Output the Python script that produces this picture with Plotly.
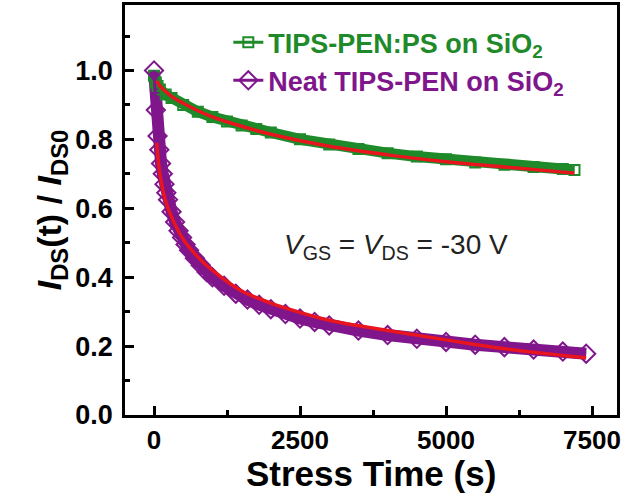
import plotly.graph_objects as go

# ---- data ----
t_ps = [0, 30, 60, 100, 200, 300, 500, 750, 1000, 1250, 1500, 1750, 2000, 2500, 3000,
        3500, 4000, 4500, 5000, 5500, 6000, 6500, 7000, 7200]
y_ps = [0.985, 0.965, 0.955, 0.945, 0.93, 0.92, 0.90, 0.88, 0.865, 0.852, 0.84, 0.83,
        0.82, 0.80, 0.785, 0.772, 0.76, 0.75, 0.742, 0.733, 0.726, 0.72, 0.714, 0.711]

t_neat = [0, 30, 60, 90, 120, 150, 180, 210, 240, 300, 360, 420, 480, 540, 600, 700, 800,
          900, 1000, 1200, 1400, 1600, 1800, 2000, 2250, 2500, 2750, 3000, 3500, 4000,
          4500, 5000, 5500, 6000, 6500, 7000, 7400]
y_neat = [1.00, 0.885, 0.81, 0.77, 0.73, 0.70, 0.67, 0.645, 0.625, 0.59, 0.56, 0.535,
          0.515, 0.495, 0.478, 0.455, 0.435, 0.415, 0.40, 0.375, 0.352, 0.335, 0.32, 0.307,
          0.293, 0.28, 0.27, 0.26, 0.245, 0.232, 0.221, 0.212, 0.204, 0.197, 0.19, 0.184,
          0.178]

t_fit_ps = [50, 100, 300, 500, 1000, 1500, 2000, 3000, 4000, 5000, 6000, 7200]
y_fit_ps = [0.97, 0.955, 0.925, 0.905, 0.865, 0.838, 0.815, 0.78, 0.755, 0.735, 0.72, 0.702]

t_fit_neat = [45, 100, 200, 300, 500, 800, 1000, 1500, 2000, 2500, 3000, 4000, 5000,
              6000, 7000, 7400]
y_fit_neat = [0.79, 0.70, 0.62, 0.575, 0.51, 0.45, 0.42, 0.36, 0.325, 0.298, 0.275,
              0.245, 0.218, 0.192, 0.173, 0.166]

x_ticks = [0, 2500, 5000, 7500]
x_minor = [1250, 3750, 6250]
y_ticks = [0, 0.2, 0.4, 0.6, 0.8, 1.0]
y_ticklabels = ["0.0", "0.2", "0.4", "0.6", "0.8", "1.0"]
y_minor = [0.1, 0.3, 0.5, 0.7, 0.9, 1.1]

GREEN = "#1e8a2a"
PURPLE = "#80168c"
RED = "#e8141e"
FONT = "Liberation Sans"

fig = go.Figure()
# thick bands formed by dense markers
fig.add_trace(go.Scatter(x=t_ps, y=y_ps, mode="lines", line=dict(color=GREEN, width=11),
                         showlegend=False, hoverinfo="skip"))
fig.add_trace(go.Scatter(x=t_neat, y=y_neat, mode="lines", line=dict(color=PURPLE, width=12),
                         showlegend=False, hoverinfo="skip"))
fig.add_trace(go.Scatter(x=t_ps, y=y_ps, mode="lines+markers",
                         name=f'<span style="color:{GREEN}">TIPS-PEN:PS on SiO<sub>2</sub></span>',
                         line=dict(color=GREEN, width=3),
                         marker=dict(symbol="square-open", size=10, color=GREEN,
                                     line=dict(width=2, color=GREEN))))
fig.add_trace(go.Scatter(x=t_neat, y=y_neat, mode="lines+markers",
                         name=f'<span style="color:{PURPLE}">Neat TIPS-PEN on SiO<sub>2</sub></span>',
                         line=dict(color=PURPLE, width=3),
                         marker=dict(symbol="diamond-open", size=14, color=PURPLE,
                                     line=dict(width=2, color=PURPLE))))
fig.add_trace(go.Scatter(x=t_fit_ps, y=y_fit_ps, mode="lines", line=dict(color=RED, width=3.5),
                         showlegend=False, line_shape="spline"))
fig.add_trace(go.Scatter(x=t_fit_neat, y=y_fit_neat, mode="lines", line=dict(color=RED, width=3.5),
                         showlegend=False, line_shape="spline"))

fig.add_annotation(x=4144, y=0.49, xref="x", yref="y", showarrow=False,
                   text="<i>V</i><sub>GS</sub> = <i>V</i><sub>DS</sub> = -30 V",
                   font=dict(family=FONT, size=28, color="#222222"))
# x-axis title placed just under the tick labels, as in the reference
fig.add_annotation(x=0.5, y=-0.142, xref="paper", yref="paper", showarrow=False,
                   xanchor="center", yanchor="middle", text="Stress Time (s)",
                   font=dict(family=FONT, size=35, color="black", weight="bold"))

axis_common = dict(showline=True, linewidth=2.5, linecolor="black", mirror=True,
                   ticks="inside", ticklen=9, tickwidth=2.5, tickcolor="black",
                   showgrid=False, zeroline=False,
                   tickfont=dict(family=FONT, size=27, color="black", weight="bold"))

fig.update_xaxes(range=[-497, 7928], tickvals=x_ticks, ticklabelstandoff=0,
                 minor=dict(tickvals=x_minor, ticklen=5, tickwidth=2.5,
                            ticks="inside", tickcolor="black"),
                 **axis_common)
fig.update_yaxes(range=[0, 1.19], tickvals=y_ticks, ticktext=y_ticklabels,
                 ticklabelstandoff=4,
                 minor=dict(tickvals=y_minor, ticklen=5, tickwidth=2.5,
                            ticks="inside", tickcolor="black"),
                 title=dict(text="<i>I</i><sub>DS</sub>(t) / <i>I</i><sub>DS0</sub>", standoff=4,
                            font=dict(family=FONT, size=34, color="black", weight="bold")),
                 **axis_common)
fig.update_xaxes(tickfont_size=26)

fig.update_layout(width=626, height=499, margin=dict(l=125, r=9, t=5, b=84, autoexpand=False),
                  paper_bgcolor="white", plot_bgcolor="white",
                  legend=dict(x=0.21, y=0.968, xanchor="left", yanchor="top",
                              bgcolor="rgba(0,0,0,0)", tracegroupgap=0,
                              font=dict(family=FONT, size=27, weight="bold")))

fig.write_html("out.html", config={"displayModeBar": False},
               post_script="document.body.style.margin='0';")
